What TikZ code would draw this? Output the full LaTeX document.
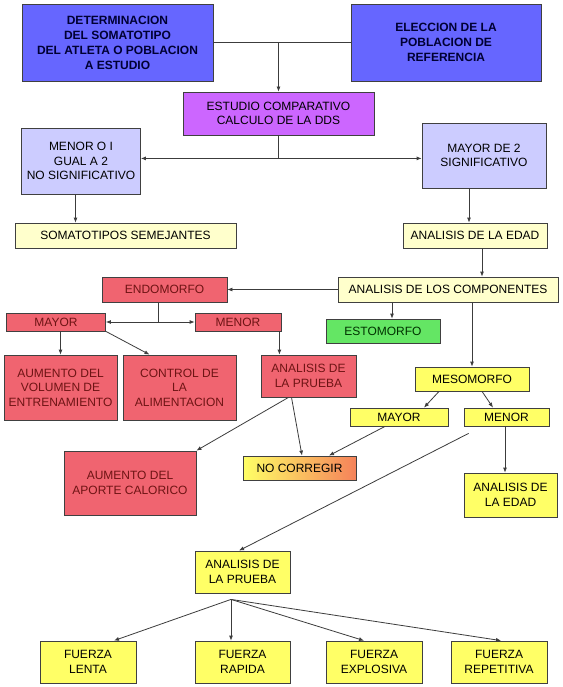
\documentclass[tikz,border=0pt]{standalone}
\usepackage{fontspec}
\setmainfont{Liberation Sans}
\usepackage{tikz}
\usetikzlibrary{arrows.meta}

\definecolor{azul}{RGB}{102,102,255}
\definecolor{morado}{RGB}{204,102,255}
\definecolor{lila}{RGB}{204,204,255}
\definecolor{crema}{RGB}{255,255,204}
\definecolor{rojo}{RGB}{240,100,112}
\definecolor{verde}{RGB}{100,230,100}
\definecolor{amarillo}{RGB}{255,255,102}
\definecolor{naranja}{RGB}{245,130,90}
\definecolor{texrojo}{RGB}{110,20,20}
\definecolor{gris}{RGB}{60,60,60}

\tikzset{
  caja/.style={draw=black!75, line width=0.8pt, align=center, inner sep=1pt,
    font=\fontsize{12}{14.5}\selectfont},
  cajaazul/.style={caja, fill=azul, text={rgb,255:red,0;green,0;blue,51}, font=\fontsize{12}{15}\selectfont\bfseries},
  cajamorada/.style={caja, fill=morado},
  cajalila/.style={caja, fill=lila},
  cajacrema/.style={caja, fill=crema},
  cajaroja/.style={caja, fill=rojo, text=texrojo},
  cajaverde/.style={caja, fill=verde, text={rgb,255:red,0;green,50;blue,0}},
  cajaamarilla/.style={caja, fill=amarillo},
  linea/.style={line width=0.8pt, draw=gris},
  >={Latex[length=5pt,width=4pt]}
}

\begin{document}
\begin{tikzpicture}[x=1pt,y=-1pt]

\fill[white] (0,0) rectangle (562,687);
\useasboundingbox (0,0) rectangle (562,687);

\node[cajaazul, minimum width=191pt, minimum height=77pt] (det) at (117.5,42.5) {DETERMINACION\\DEL SOMATOTIPO\\DEL ATLETA O POBLACION\\A ESTUDIO};
\node[cajaazul, minimum width=190pt, minimum height=77pt] (elec) at (446,42.5) {ELECCION DE LA\\POBLACION DE\\REFERENCIA};
\node[cajamorada, minimum width=191pt, minimum height=43pt] (est) at (278.5,113.5) {ESTUDIO COMPARATIVO\\CALCULO DE LA DDS};
\node[cajalila, minimum width=119pt, minimum height=66pt] (menor2) at (81,161) {MENOR O I\\GUAL A 2\\NO SIGNIFICATIVO};
\node[cajalila, minimum width=124pt, minimum height=65pt] (mayor2) at (484,155.5) {MAYOR DE 2\\SIGNIFICATIVO};
\node[cajacrema, minimum width=221pt, minimum height=25pt] (soma) at (125.5,235.5) {SOMATOTIPOS SEMEJANTES};
\node[cajacrema, minimum width=144pt, minimum height=25pt] (edad1) at (475,235.5) {ANALISIS DE LA EDAD};
\node[cajacrema, minimum width=220pt, minimum height=25pt] (comp) at (448,289.5) {ANALISIS DE LOS COMPONENTES};
\node[cajaroja, minimum width=125pt, minimum height=25pt] (endo) at (164.5,289.5) {ENDOMORFO};
\node[cajaroja, minimum width=99pt, minimum height=18pt] (mayorR) at (56,322) {MAYOR};
\node[cajaroja, minimum width=86pt, minimum height=18pt] (menorR) at (238,322) {MENOR};
\node[cajaverde, minimum width=114pt, minimum height=24pt] (esto) at (383,331) {ESTOMORFO};
\node[cajaamarilla, minimum width=114pt, minimum height=24pt] (meso) at (472,379) {MESOMORFO};
\node[cajaroja, minimum width=113pt, minimum height=65pt] (volumen) at (60.5,387.5) {AUMENTO DEL\\VOLUMEN DE\\ENTRENAMIENTO};
\node[cajaroja, minimum width=113pt, minimum height=65pt] (control) at (179.5,387.5) {CONTROL DE\\LA\\ALIMENTACION};
\node[cajaroja, minimum width=95pt, minimum height=42pt] (pruebaR) at (308.5,376) {ANALISIS DE\\LA PRUEBA};
\node[cajaamarilla, minimum width=98pt, minimum height=18pt] (mayorY) at (399,417) {MAYOR};
\node[cajaamarilla, minimum width=85pt, minimum height=18pt] (menorY) at (506.5,417) {MENOR};
\node[caja, left color=amarillo, right color=naranja, minimum width=113pt, minimum height=24pt] (nocorr) at (299.5,468) {NO CORREGIR};
\node[cajaroja, minimum width=132pt, minimum height=64pt] (aporte) at (130,483) {AUMENTO DEL\\APORTE CALORICO};
\node[cajaamarilla, minimum width=93pt, minimum height=44pt] (edad2) at (510.5,495) {ANALISIS DE\\LA EDAD};
\node[cajaamarilla, minimum width=95pt, minimum height=42pt] (pruebaY) at (242.5,572) {ANALISIS DE\\LA PRUEBA};
\node[cajaamarilla, minimum width=96pt, minimum height=42pt] (lenta) at (88,662) {FUERZA\\LENTA};
\node[cajaamarilla, minimum width=95pt, minimum height=42pt] (rapida) at (242.5,662) {FUERZA\\RAPIDA};
\node[cajaamarilla, minimum width=96pt, minimum height=42pt] (explosiva) at (374,662) {FUERZA\\EXPLOSIVA};
\node[cajaamarilla, minimum width=96pt, minimum height=42pt] (repetitiva) at (499,662) {FUERZA\\REPETITIVA};

\coordinate (j1) at (est.north |- det.east);
\coordinate (j2) at ([yshift=-23pt]est.south);
\coordinate (j3) at ([xshift=-6.5pt]endo.south |- mayorR.east);
\coordinate (j4) at ([shift={(5pt,-7pt)}]menorY.south west);
\coordinate (j5) at ([shift={(-11.5pt,-6pt)}]pruebaY.south);

\draw [linea] (det.east) -- (elec.west);
\draw [linea,->] (j1) -- (est.north);
\draw [linea] (est.south) -- (j2);
\draw [linea,->] (j2) -- (j2 -| menor2.east);
\draw [linea,->] (j2) -- (j2 -| mayor2.west);
\draw [linea,->] ([xshift=-5.5pt]menor2.south) -- ([xshift=-5.5pt]menor2.south |- soma.north);
\draw [linea,->] ([xshift=-15pt]mayor2.south) -- ([xshift=-15pt]mayor2.south |- edad1.north);
\draw [linea,->] ([xshift=7pt]edad1.south) -- ([xshift=7pt]edad1.south |- comp.north);
\draw [linea,->] (comp.west) -- (endo.east);
\draw [linea] (j3 |- endo.south) -- (j3);
\draw [linea,->] (j3) -- (mayorR.east);
\draw [linea,->] (j3) -- (menorR.west);
\draw [linea,->] (volumen.north |- mayorR.south) -- (volumen.north);
\draw [linea,->] (mayorR.south east) -- ([xshift=-30pt]control.north);
\draw [linea,->] ([xshift=-2pt]menorR.south east) -- ([xshift=-2pt]menorR.south east |- pruebaR.north);
\draw [linea,->] ([xshift=9pt]esto.north |- comp.south) -- ([xshift=9pt]esto.north);
\draw [linea,->] (meso.north |- comp.south) -- (meso.north);
\draw [linea,->] ([xshift=-33pt]meso.south) -- ([xshift=25pt]mayorY.north);
\draw [linea,->] ([xshift=10pt]meso.south) -- ([xshift=-13.5pt]menorY.north);
\draw [linea,->] ([xshift=-20pt]pruebaR.south) -- (aporte.north east);
\draw [linea,->] ([xshift=-17pt]pruebaR.south) -- ([xshift=2.5pt]nocorr.north);
\draw [linea,->] ([xshift=-14pt]mayorY.south) -- ([xshift=29.5pt]nocorr.north);
\draw [linea,->] ([xshift=-1.5pt]menorY.south) -- ([xshift=-1.5pt]menorY.south |- edad2.north);
\draw [linea,->] (j4) -- ([xshift=-3.5pt]pruebaY.north);
\draw [linea,->] (j5) -- ([xshift=26pt]lenta.north);
\draw [linea,->] (j5) -- ([xshift=-11.5pt]rapida.north);
\draw [linea,->] (j5) -- ([xshift=-10pt]explosiva.north);
\draw [linea,->] (j5) -- ([xshift=2pt]repetitiva.north);
\end{tikzpicture}
\end{document}
